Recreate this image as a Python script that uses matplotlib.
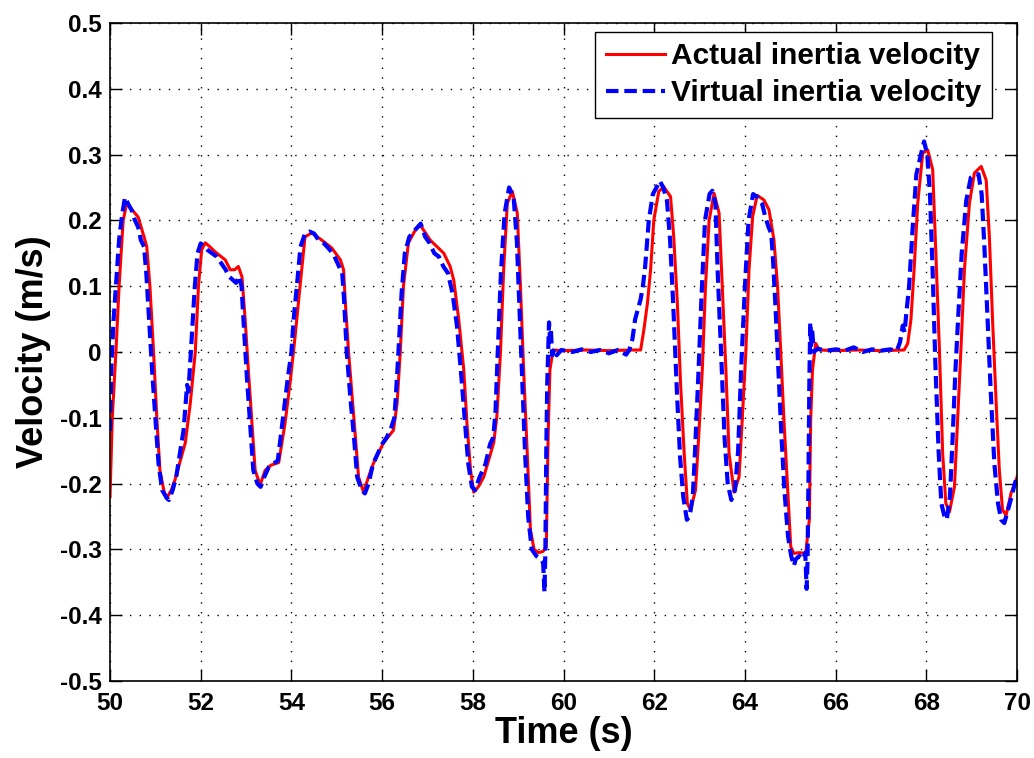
import matplotlib
matplotlib.use("Agg")
import matplotlib.pyplot as plt
import numpy as np

# actual inertia velocity
t_actual = [50.00, 50.05, 50.13, 50.20, 50.29, 50.37, 50.50, 50.62, 50.75, 50.81, 50.88, 50.96,
            51.03, 51.10, 51.20, 51.27, 51.35, 51.43, 51.55, 51.66, 51.77, 51.88, 51.95, 52.02,
            52.10, 52.20, 52.32, 52.45, 52.54, 52.65, 52.75, 52.83, 52.91, 52.98, 53.05, 53.13,
            53.20, 53.31, 53.42, 53.55, 53.72, 53.86, 53.97, 54.08, 54.19, 54.30, 54.45, 54.67,
            54.89, 55.08, 55.15, 55.19, 55.26, 55.34, 55.41, 55.48, 55.59, 55.70, 55.81, 56.03,
            56.25, 56.33, 56.40, 56.47, 56.58, 56.73, 56.84, 57.06, 57.36, 57.50, 57.58, 57.69,
            57.80, 57.87, 57.95, 58.02, 58.12, 58.24, 58.46, 58.53, 58.61, 58.68, 58.76, 58.87,
            58.98, 59.05, 59.12, 59.20, 59.27, 59.35, 59.45, 59.55, 59.62, 59.66, 59.70, 59.77,
            60.00, 60.50, 61.00, 61.50, 61.70, 61.77, 61.85, 61.92, 61.99, 62.10, 62.21, 62.36,
            62.43, 62.51, 62.58, 62.66, 62.73, 62.80, 62.91, 62.98, 63.06, 63.13, 63.21, 63.32,
            63.43, 63.50, 63.58, 63.65, 63.76, 63.87, 63.94, 64.02, 64.09, 64.17, 64.27, 64.42,
            64.53, 64.64, 64.72, 64.79, 64.86, 64.94, 65.01, 65.08, 65.19, 65.34, 65.42, 65.45,
            65.49, 65.56, 65.64, 66.00, 66.50, 67.00, 67.51, 67.59, 67.66, 67.73, 67.81, 67.92,
            68.03, 68.14, 68.21, 68.29, 68.36, 68.43, 68.51, 68.62, 68.69, 68.76, 68.84, 68.95,
            69.06, 69.21, 69.32, 69.39, 69.46, 69.54, 69.61, 69.68, 69.76, 69.87, 69.98, 70.00]
v_actual = [-0.220, -0.100, 0.000, 0.100, 0.200, 0.226, 0.215, 0.205, 0.175, 0.160, 0.100, 0.000,
            -0.098, -0.180, -0.215, -0.220, -0.210, -0.195, -0.165, -0.138, -0.078, 0.000, 0.100, 0.155,
            0.166, 0.160, 0.152, 0.145, 0.140, 0.125, 0.125, 0.130, 0.114, 0.049, -0.027, -0.108,
            -0.180, -0.202, -0.180, -0.172, -0.168, -0.108, -0.047, 0.023, 0.100, 0.175, 0.181, 0.170,
            0.158, 0.140, 0.125, 0.074, 0.000, -0.068, -0.129, -0.190, -0.213, -0.190, -0.169, -0.138,
            -0.119, -0.078, 0.000, 0.100, 0.166, 0.185, 0.193, 0.170, 0.150, 0.130, 0.109, 0.049,
            -0.027, -0.108, -0.180, -0.213, -0.205, -0.190, -0.138, -0.098, 0.000, 0.125, 0.226, 0.244,
            0.211, 0.100, -0.027, -0.154, -0.270, -0.300, -0.305, -0.303, -0.296, -0.129, -0.027, 0.003,
            0.002, 0.003, 0.002, 0.003, 0.003, 0.033, 0.074, 0.125, 0.200, 0.244, 0.251, 0.236,
            0.175, 0.074, -0.047, -0.154, -0.230, -0.240, -0.210, -0.129, -0.027, 0.099, 0.200, 0.241,
            0.211, 0.099, -0.027, -0.154, -0.213, -0.190, -0.103, 0.000, 0.125, 0.206, 0.238, 0.231,
            0.216, 0.170, 0.099, 0.000, -0.103, -0.205, -0.296, -0.306, -0.305, -0.306, -0.255, -0.103,
            -0.027, 0.013, 0.003, 0.002, 0.003, 0.002, 0.003, 0.013, 0.049, 0.125, 0.226, 0.302,
            0.307, 0.277, 0.150, 0.000, -0.154, -0.230, -0.243, -0.205, -0.103, 0.000, 0.125, 0.226,
            0.272, 0.282, 0.261, 0.175, 0.049, -0.078, -0.180, -0.240, -0.248, -0.214, -0.195, -0.190]

# virtual inertia velocity
t_virtual = [50.00, 50.03, 50.08, 50.13, 50.20, 50.27, 50.33, 50.40, 50.48, 50.55, 50.62, 50.68,
             50.75, 50.80, 50.86, 50.93, 51.00, 51.07, 51.15, 51.25, 51.30, 51.38, 51.46, 51.55,
             51.62, 51.70, 51.73, 51.80, 51.87, 51.93, 52.00, 52.08, 52.15, 52.25, 52.35, 52.45,
             52.55, 52.62, 52.70, 52.78, 52.85, 52.90, 52.95, 53.02, 53.10, 53.16, 53.25, 53.32,
             53.40, 53.50, 53.60, 53.70, 53.78, 53.85, 53.92, 54.00, 54.05, 54.12, 54.20, 54.30,
             54.40, 54.50, 54.60, 54.72, 54.85, 54.95, 55.05, 55.12, 55.16, 55.22, 55.30, 55.38,
             55.45, 55.55, 55.62, 55.70, 55.80, 55.90, 56.00, 56.10, 56.20, 56.27, 56.30, 56.36,
             56.43, 56.50, 56.60, 56.72, 56.85, 56.95, 57.05, 57.15, 57.25, 57.35, 57.45, 57.55,
             57.65, 57.75, 57.83, 57.90, 57.98, 58.05, 58.15, 58.28, 58.38, 58.45, 58.50, 58.55,
             58.62, 58.70, 58.80, 58.90, 58.97, 59.02, 59.08, 59.15, 59.22, 59.30, 59.40, 59.50,
             59.55, 59.58, 59.60, 59.62, 59.64, 59.66, 59.68, 59.70, 59.72, 59.75, 59.80, 59.85,
             59.95, 60.20, 60.40, 60.60, 60.80, 61.00, 61.20, 61.38, 61.45, 61.52, 61.58, 61.62,
             61.66, 61.70, 61.75, 61.80, 61.88, 61.97, 62.05, 62.12, 62.20, 62.28, 62.35, 62.42,
             62.50, 62.57, 62.64, 62.72, 62.78, 62.85, 62.90, 62.97, 63.04, 63.12, 63.22, 63.28,
             63.35, 63.40, 63.48, 63.55, 63.62, 63.70, 63.78, 63.85, 63.92, 64.00, 64.08, 64.18,
             64.28, 64.38, 64.45, 64.52, 64.58, 64.62, 64.68, 64.74, 64.80, 64.87, 64.95, 65.02,
             65.08, 65.12, 65.20, 65.28, 65.33, 65.36, 65.38, 65.40, 65.42, 65.44, 65.46, 65.48,
             65.52, 65.60, 65.80, 66.00, 66.20, 66.40, 66.60, 66.80, 67.00, 67.20, 67.35, 67.42,
             67.48, 67.52, 67.56, 67.62, 67.70, 67.78, 67.88, 67.95, 68.02, 68.08, 68.14, 68.20,
             68.27, 68.33, 68.40, 68.45, 68.52, 68.58, 68.64, 68.70, 68.78, 68.88, 68.98, 69.08,
             69.15, 69.22, 69.28, 69.35, 69.42, 69.50, 69.58, 69.65, 69.72, 69.80, 69.88, 69.95,
             70.00]
v_virtual = [-0.120, -0.020, 0.050, 0.100, 0.170, 0.210, 0.235, 0.225, 0.215, 0.200, 0.190, 0.170,
             0.160, 0.120, 0.050, -0.030, -0.100, -0.170, -0.210, -0.222, -0.225, -0.210, -0.190, -0.150,
             -0.120, -0.050, -0.060, 0.020, 0.100, 0.150, 0.165, 0.160, 0.155, 0.150, 0.145, 0.135,
             0.125, 0.115, 0.110, 0.105, 0.115, 0.100, 0.040, -0.040, -0.120, -0.180, -0.200, -0.205,
             -0.190, -0.175, -0.170, -0.165, -0.120, -0.080, -0.040, 0.000, 0.050, 0.100, 0.160, 0.180,
             0.183, 0.180, 0.170, 0.165, 0.155, 0.145, 0.130, 0.120, 0.080, 0.000, -0.070, -0.130,
             -0.190, -0.210, -0.215, -0.200, -0.170, -0.155, -0.140, -0.130, -0.115, -0.100, -0.070, 0.000,
             0.090, 0.150, 0.175, 0.185, 0.195, 0.175, 0.165, 0.150, 0.145, 0.130, 0.120, 0.090,
             0.040, -0.040, -0.110, -0.170, -0.205, -0.210, -0.190, -0.170, -0.140, -0.130, -0.090, 0.000,
             0.120, 0.210, 0.250, 0.235, 0.170, 0.080, -0.030, -0.150, -0.250, -0.300, -0.310, -0.315,
             -0.320, -0.365, -0.300, -0.150, -0.050, 0.000, 0.045, 0.020, 0.035, -0.005, 0.005, -0.005,
             0.003, 0.000, 0.004, 0.000, 0.003, -0.002, 0.003, -0.004, 0.003, 0.020, 0.050, 0.060,
             0.070, 0.080, 0.100, 0.130, 0.200, 0.240, 0.250, 0.260, 0.250, 0.230, 0.170, 0.070,
             -0.060, -0.160, -0.220, -0.255, -0.250, -0.220, -0.150, -0.040, 0.080, 0.200, 0.240, 0.245,
             0.225, 0.120, -0.010, -0.130, -0.200, -0.225, -0.210, -0.150, -0.020, 0.100, 0.200, 0.240,
             0.235, 0.225, 0.205, 0.190, 0.180, 0.140, 0.060, -0.030, -0.120, -0.210, -0.280, -0.310,
             -0.325, -0.315, -0.310, -0.315, -0.305, -0.360, -0.320, -0.200, -0.050, 0.045, 0.010, 0.035,
             0.000, 0.005, 0.002, 0.004, 0.002, 0.007, 0.000, 0.004, 0.002, 0.004, 0.002, 0.015,
             0.040, 0.030, 0.060, 0.100, 0.190, 0.270, 0.300, 0.320, 0.300, 0.240, 0.120, -0.020,
             -0.150, -0.230, -0.250, -0.255, -0.220, -0.130, -0.030, 0.050, 0.150, 0.230, 0.265, 0.270,
             0.270, 0.240, 0.160, 0.050, -0.060, -0.170, -0.230, -0.255, -0.260, -0.240, -0.220, -0.200,
             -0.190]

x_ticks = np.arange(50, 71, 2)
y_ticks = np.round(np.arange(-0.5, 0.51, 0.1), 1)

plt.rcParams['font.family'] = ['Liberation Sans', 'DejaVu Sans']
plt.rcParams['font.weight'] = 'bold'

fig = plt.figure(figsize=(10.34, 7.58), dpi=100)
ax = fig.add_axes([0.1064, 0.1016, 0.8772, 0.8681])

ax.plot(t_actual, v_actual, color='#ff0000', linewidth=2.2, label='Actual inertia velocity')
ax.plot(t_virtual, v_virtual, color='#0000ff', linewidth=3.0, dashes=(3.0, 1.4),
        label='Virtual inertia velocity')

ax.set_xlim(50, 70)
ax.set_ylim(-0.5, 0.5)
ax.set_xticks(x_ticks)
ax.set_yticks(y_ticks)
ax.set_xticklabels([str(x) for x in x_ticks])
ax.set_yticklabels(['%g' % y if y != 0 else '0' for y in y_ticks])
ax.tick_params(direction='in', length=8.5, width=1.0, labelsize=17.5, top=True, right=True)
ax.tick_params(axis='x', pad=8)
ax.tick_params(axis='y', pad=6)
for lab in ax.get_xticklabels() + ax.get_yticklabels():
    lab.set_fontweight('bold')

ax.grid(True, color='black', linestyle=(0, (1, 6)), linewidth=1.0)
for s in ax.spines.values():
    s.set_linewidth(1.2)

ax.set_xlabel('Time (s)', fontsize=26, fontweight='bold', labelpad=1)
ax.set_ylabel('Velocity (m/s)', fontsize=26, fontweight='bold', labelpad=6)

leg = ax.legend(loc='upper right', bbox_to_anchor=(0.9725, 0.9863), borderaxespad=0,
                fontsize=21.5, handlelength=2.0, handletextpad=0.2, borderpad=0.35,
                labelspacing=0.3, fancybox=False, framealpha=1, edgecolor='black')
leg.get_frame().set_linewidth(1.0)
for txt in leg.get_texts():
    txt.set_fontweight('bold')

fig.savefig('out.png', dpi=100)
